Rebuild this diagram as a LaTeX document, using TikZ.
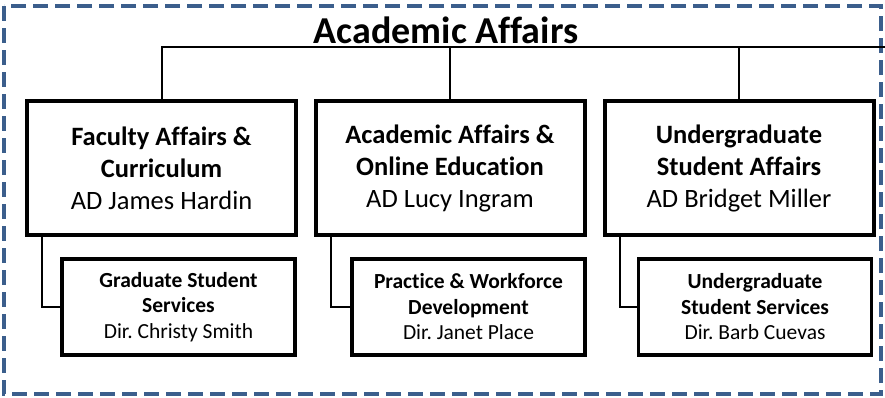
\documentclass[tikz,border=0pt]{standalone}
\usepackage{fontspec}
\setmainfont[Ligatures=NoCommon]{Carlito}
\usetikzlibrary{positioning}
\definecolor{frameblue}{RGB}{59,94,140}
\frenchspacing

\begin{document}
\begin{tikzpicture}[
    x=1pt, y=-1pt,
    unit_box/.style={draw, line width=4pt, minimum width=269pt, minimum height=134pt, align=center, font=\fontsize{26.5}{32}\selectfont, inner sep=0pt},
    sub_box/.style={draw, line width=3.6pt, minimum width=233pt, minimum height=96pt, align=center, font=\fontsize{21.5}{25.5}\selectfont, inner sep=0pt},
    link_style/.style={line width=2pt},
    frame_style/.style={draw=frameblue, line width=4pt, dash pattern=on 15pt off 7pt}
]
\useasboundingbox (0,0) rectangle (885,397);

% Outer dashed frame
\draw[frame_style] (4,6) rectangle (881,394);

% Title
\node[font=\fontsize{38}{44}\selectfont\bfseries] (title) at (446,30) {Academic Affairs};

% Associate deans
\node[unit_box] (fac) at (161.5,168) {\textbf{Faculty Affairs \&}\\\textbf{Curriculum}\\AD James Hardin};
\node[unit_box] (aoe) at (450,168) {\textbf{Academic Affairs \&}\\\textbf{Online Education}\\AD Lucy Ingram};
\node[unit_box] (usa) at (739,168) {\textbf{Undergraduate}\\\textbf{Student Affairs}\\AD Bridget Miller};

% Directors
\node[sub_box] (gss) at (178.5,307) {\textbf{Graduate Student}\\\textbf{Services}\\Dir. Christy Smith};
\node[sub_box] (pwd) at (468.5,307) {\textbf{Practice \& Workforce}\\\textbf{Development}\\Dir. Janet Place};
\node[sub_box] (uss) at (755,307) {\textbf{Undergraduate}\\\textbf{Student Services}\\Dir. Barb Cuevas};

% Top bus line
\coordinate (bus_end) at (885,47);
\draw[link_style] (fac.north) -- (fac.north |- bus_end) -- (bus_end);
\draw[link_style] (aoe.north) -- (aoe.north |- bus_end);
\draw[link_style] (usa.north) -- (usa.north |- bus_end);

% Elbow links to directors
\draw[link_style] ([xshift=17pt]fac.south west) |- (gss.west);
\draw[link_style] ([xshift=17pt]aoe.south west) |- (pwd.west);
\draw[link_style] ([xshift=17pt]usa.south west) |- (uss.west);

\end{tikzpicture}
\end{document}
